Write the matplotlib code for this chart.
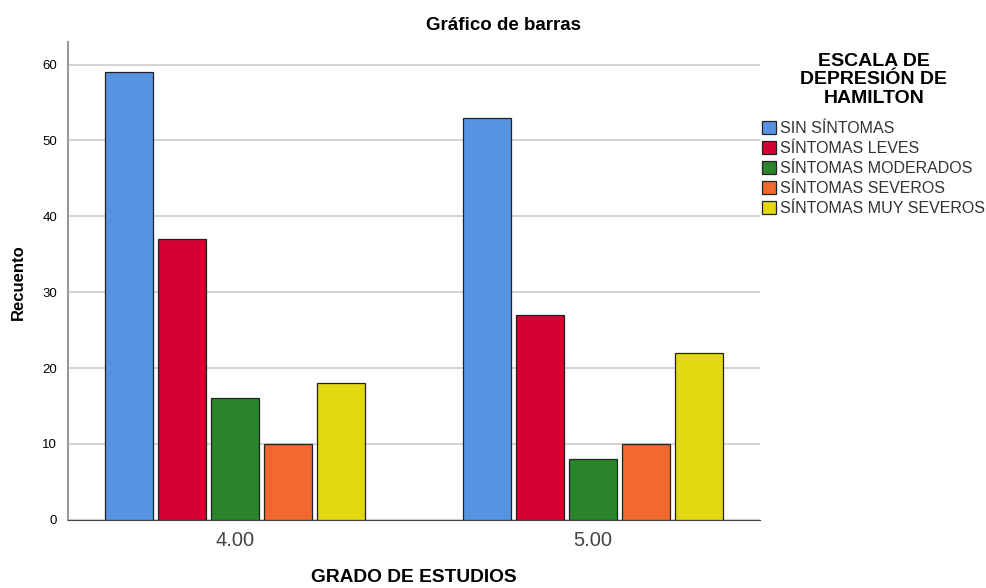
import numpy as np
import matplotlib.pyplot as plt
from matplotlib.patches import Patch

plt.rcParams["font.family"] = ["Liberation Sans", "DejaVu Sans"]

grupos = ["4.00", "5.00"]
niveles = ["SIN SÍNTOMAS", "SÍNTOMAS LEVES", "SÍNTOMAS MODERADOS",
           "SÍNTOMAS SEVEROS", "SÍNTOMAS MUY SEVEROS"]
sin_sintomas = [59, 53]
leves = [37, 27]
moderados = [16, 8]
severos = [10, 10]
muy_severos = [18, 22]
colores = ["#5694E3", "#D50032", "#2A852A", "#F1692C", "#E2D810"]

series = [sin_sintomas, leves, moderados, severos, muy_severos]

fig = plt.figure(figsize=(9.87, 5.88), dpi=100)
ax = fig.add_axes([0.069, 0.116, 0.701, 0.813])

x = np.arange(len(grupos))
ancho = 0.134
paso = 0.148
for i, (vals, col) in enumerate(zip(series, colores)):
    ax.bar(x + (i - 2) * paso, vals, ancho, color=col,
           edgecolor="#222222", linewidth=0.9, zorder=3)

ax.set_xlim(-0.466, 1.466)
ax.set_ylim(0, 63)
ax.set_yticks(range(0, 61, 10))
ax.set_xticks(x)
ax.set_xticklabels(grupos, fontsize=14.5, color="#444444")
ax.tick_params(axis="y", labelsize=9.5, length=0, pad=8)
ax.tick_params(axis="x", length=0, pad=8)
ax.yaxis.grid(True, color="#cccccc", linewidth=1.2, zorder=0)
for s in ["top", "right"]:
    ax.spines[s].set_visible(False)
ax.spines["left"].set_color("#999999")
ax.spines["left"].set_linewidth(1.5)
ax.spines["bottom"].set_color("#444444")

fig.text(504 / 987, 1 - 25 / 588, "Gráfico de barras", ha="center", va="center",
         fontsize=13.5, fontweight="bold")
fig.text(18 / 987, 1 - 282 / 588, "Recuento", rotation=90, ha="center", va="center",
         fontsize=12, fontweight="bold")
fig.text(414 / 987, 1 - 578 / 588, "GRADO DE ESTUDIOS", ha="center", va="center",
         fontsize=13.8, fontweight="bold")

fig.text(874 / 987, 1 - 80 / 588, "ESCALA DE\nDEPRESIÓN DE\nHAMILTON", ha="center", va="center",
         fontsize=14, fontweight="bold", linespacing=1.12)

handles = [Patch(facecolor=c, edgecolor="#222222", linewidth=0.9) for c in colores]
fig.legend(handles, niveles, loc="upper left", bbox_to_anchor=(762 / 987, 1 - 121 / 588),
           frameon=False, fontsize=11.5, handlelength=0.9, handleheight=0.9,
           handletextpad=0.25, labelspacing=0.3, borderaxespad=0, borderpad=0,
           labelcolor="#333333")

fig.savefig("out.png", dpi=100)
